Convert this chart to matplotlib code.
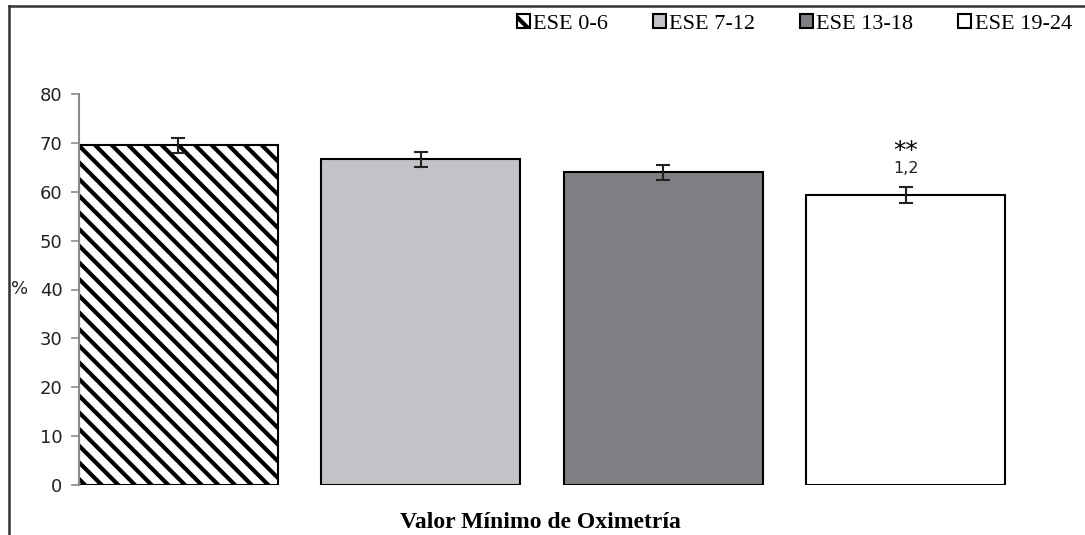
import matplotlib
matplotlib.use("Agg")
import matplotlib.pyplot as plt
import matplotlib.transforms as mtransforms
from matplotlib.lines import Line2D

groups = ["ESE 0-6", "ESE 7-12", "ESE 13-18", "ESE 19-24"]
values = [69.5, 66.6, 64.0, 59.4]
errors = [1.5, 1.6, 1.5, 1.6]
colors = ["white", "#c4c2c6", "#807e82", "white"]
hatches = ["\\\\", "", "", ""]
yticks = [0, 10, 20, 30, 40, 50, 60, 70, 80]

plt.rcParams["hatch.linewidth"] = 3.0

fig = plt.figure(figsize=(10.85, 5.35), dpi=100)
ax = fig.add_axes([79 / 1085, 50 / 535, (1050 - 79) / 1085, 391 / 535])

x = range(len(groups))
bars = ax.bar(x, values, width=0.82, color=colors, edgecolor="black",
              linewidth=1.5, hatch=hatches, label=groups)
ax.errorbar(x, values, yerr=errors, fmt="none", ecolor="#222222",
            elinewidth=1.5, capsize=5, capthick=1.5)

ax.set_xlim(-0.41, 3.596)
ax.set_ylim(0, 80)
ax.set_yticks(yticks)
ax.set_xticks([])
for s in ["top", "right", "bottom"]:
    ax.spines[s].set_visible(False)
ax.spines["left"].set_color("#8a8a8a")
ax.spines["left"].set_linewidth(1.5)
ax.tick_params(axis="y", direction="out", length=6, width=1.2, color="#8a8a8a",
               labelsize=13, labelcolor="#222222", pad=6)

# significance marks above the last bar
ax.text(3, 68.4, "**", ha="center", va="center", fontsize=18)
ax.text(3, 64.8, "1,2", ha="center", va="center", fontsize=11.5, color="#222222")

# "%" label next to the 40 tick
trans = mtransforms.blended_transform_factory(fig.transFigure, ax.transData)
ax.text(11 / 1085, 40, "%", transform=trans, ha="left", va="center",
        fontsize=13, color="#222222")

fig.text(540 / 1085, 1 - 522 / 535, "Valor Mínimo de Oximetría", ha="center",
         va="center", fontsize=17, fontweight="bold", family="Liberation Serif")

fig.legend(handles=bars, labels=groups, loc="upper right",
           bbox_to_anchor=(1.0, 1 - 1 / 535), ncol=4, frameon=False,
           prop={"family": "Liberation Serif", "size": 16},
           handlelength=0.6, handleheight=0.6, handletextpad=0.15,
           columnspacing=2.0, borderaxespad=0.2)

# outer frame (top and left edges)
fig.add_artist(Line2D([8.5 / 1085, 1], [1 - 5.5 / 535, 1 - 5.5 / 535],
                      transform=fig.transFigure, color="#333333", lw=1.8))
fig.add_artist(Line2D([8.5 / 1085, 8.5 / 1085], [0, 1 - 5.5 / 535],
                      transform=fig.transFigure, color="#333333", lw=1.8))

fig.savefig("out.png", dpi=100, facecolor="white")
